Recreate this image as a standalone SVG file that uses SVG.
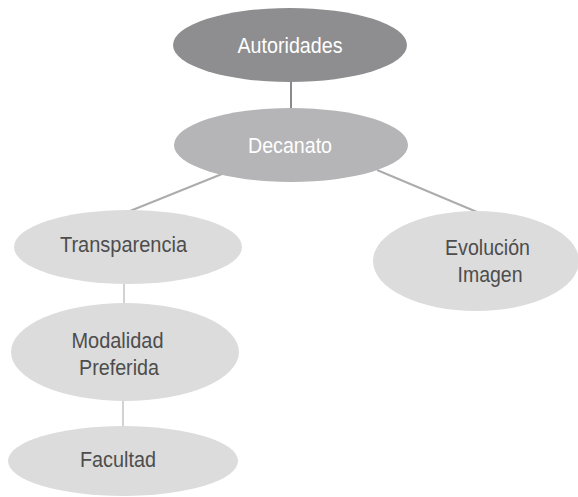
<svg xmlns="http://www.w3.org/2000/svg" width="578" height="497" viewBox="0 0 578 497">
<style>
.t{font-family:"Liberation Sans",Arial,sans-serif;font-size:22px;text-anchor:middle}
.w{fill:#ffffff}
.d{fill:#4d4d4d}
.c{fill:none;stroke-width:2}
</style>
<rect width="578" height="497" fill="#ffffff"/>
<g id="connectors">
<line class="c" x1="291" y1="82" x2="291" y2="108" stroke="#8a8a8c"/>
<line class="c" x1="222" y1="174" x2="130" y2="211" stroke="#acacae"/>
<line class="c" x1="377" y1="170" x2="477" y2="212" stroke="#acacae"/>
<line class="c" x1="124" y1="284" x2="124" y2="304" stroke="#d2d2d2"/>
<line class="c" x1="123" y1="400" x2="123" y2="426" stroke="#d2d2d2"/>
</g>
<g id="autoridades">
<ellipse cx="290" cy="45" rx="117" ry="37" fill="#8e8e90"/>
<text class="t w" x="290" y="53" textLength="105" lengthAdjust="spacingAndGlyphs">Autoridades</text>
</g>
<g id="decanato">
<ellipse cx="291" cy="145" rx="117" ry="37" fill="#b5b5b7"/>
<text class="t w" x="290" y="153" textLength="84" lengthAdjust="spacingAndGlyphs">Decanato</text>
</g>
<g id="transparencia">
<ellipse cx="128" cy="247" rx="114" ry="37" fill="#dcdcdc"/>
<text class="t d" x="123.5" y="252" textLength="127" lengthAdjust="spacingAndGlyphs">Transparencia</text>
</g>
<g id="modalidad">
<ellipse cx="125" cy="352" rx="114" ry="49" fill="#dcdcdc"/>
<text class="t d" x="117.5" y="348" textLength="92" lengthAdjust="spacingAndGlyphs">Modalidad</text>
<text class="t d" x="119" y="375" textLength="80" lengthAdjust="spacingAndGlyphs">Preferida</text>
</g>
<g id="facultad">
<ellipse cx="123" cy="461" rx="115" ry="35" fill="#dcdcdc"/>
<text class="t d" x="118" y="467" textLength="76" lengthAdjust="spacingAndGlyphs">Facultad</text>
</g>
<g id="evolucion">
<ellipse cx="476" cy="261" rx="103" ry="50" fill="#dcdcdc"/>
<text class="t d" x="487.5" y="255" textLength="85" lengthAdjust="spacingAndGlyphs">Evolución</text>
<text class="t d" x="490" y="282" textLength="65" lengthAdjust="spacingAndGlyphs">Imagen</text>
</g>
</svg>
